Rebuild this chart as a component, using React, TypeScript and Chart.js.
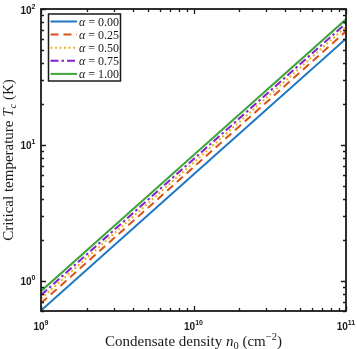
import React, { useEffect, useRef } from "react";
import { Chart, registerables } from "chart.js";

Chart.register(...registerables);

const densities = [1e9, 1e10, 1e11];
const alphaLabels = ["0.00", "0.25", "0.50", "0.75", "1.00"];
const tcAlpha000 = [0.605, 6.05, 60.5];
const tcAlpha025 = [0.685, 6.85, 68.5];
const tcAlpha050 = [0.74, 7.4, 74];
const tcAlpha075 = [0.785, 7.85, 78.5];
const tcAlpha100 = [0.84, 8.4, 84];
const xTickExps = [9, 10, 11];
const yTickExps = [0, 1, 2];

const seriesValues = [tcAlpha000, tcAlpha025, tcAlpha050, tcAlpha075, tcAlpha100];
const seriesColors = ["#1f77c4", "#d95319", "#edb120", "#8020cf", "#3ea43a"];
const seriesDashes: number[][] = [[], [8, 5], [2, 2.5], [8, 3, 2.5, 3], []];

type Seg = { t: string; font: string; dy?: number };

const SERIF = '"Liberation Serif", "Times New Roman", serif';
const SANS = '"Liberation Sans", Arial, sans-serif';

function drawSegs(ctx: CanvasRenderingContext2D, segs: Seg[], x: number, y: number, align: "center" | "left" | "right") {
  let total = 0;
  const widths = segs.map((s) => {
    ctx.font = s.font;
    const w = ctx.measureText(s.t).width;
    total += w;
    return w;
  });
  let cx = align === "center" ? x - total / 2 : align === "right" ? x - total : x;
  ctx.textAlign = "left";
  ctx.textBaseline = "alphabetic";
  segs.forEach((s, i) => {
    ctx.font = s.font;
    ctx.fillText(s.t, cx, y + (s.dy || 0));
    cx += widths[i];
  });
}

const axesPlugin = {
  id: "matlabAxes",
  afterDatasetsDraw(chart: any) {
    const ctx: CanvasRenderingContext2D = chart.ctx;
    const { left, right, top, bottom } = chart.chartArea;
    const xs = chart.scales.x;
    const ys = chart.scales.y;
    ctx.save();
    ctx.strokeStyle = "#1a1a1a";
    ctx.fillStyle = "#1a1a1a";
    ctx.lineWidth = 1.3;
    ctx.setLineDash([]);
    const major = 5;
    const minor = 3;
    const xExpMin = xTickExps[0];
    const xExpMax = xTickExps[xTickExps.length - 1];
    for (let e = xExpMin; e <= xExpMax; e++) {
      for (let m = 1; m <= 9; m++) {
        const v = m * Math.pow(10, e);
        if (v < xs.min * 0.999 || v > xs.max * 1.001) continue;
        const px = Math.round(xs.getPixelForValue(v)) + 0.5;
        const len = m === 1 ? major : minor;
        ctx.beginPath();
        ctx.moveTo(px, bottom);
        ctx.lineTo(px, bottom - len);
        ctx.moveTo(px, top);
        ctx.lineTo(px, top + len);
        ctx.stroke();
      }
    }
    for (let e = -1; e <= yTickExps[yTickExps.length - 1]; e++) {
      for (let m = 1; m <= 9; m++) {
        const v = m * Math.pow(10, e);
        if (v < ys.min * 0.999 || v > ys.max * 1.001) continue;
        const py = Math.round(ys.getPixelForValue(v)) + 0.5;
        const len = m === 1 ? major : minor;
        ctx.beginPath();
        ctx.moveTo(left, py);
        ctx.lineTo(left + len, py);
        ctx.moveTo(right, py);
        ctx.lineTo(right - len, py);
        ctx.stroke();
      }
    }
    ctx.lineWidth = 1.8;
    ctx.strokeRect(left, top, right - left, bottom - top);

    const bFont = `bold 10px ${SANS}`;
    const eFont = `bold 7px ${SANS}`;
    xTickExps.forEach((e) => {
      const px = xs.getPixelForValue(Math.pow(10, e));
      drawSegs(ctx, [{ t: "10", font: bFont }, { t: String(e), font: eFont, dy: -5 }], px, bottom + 18.5, "center");
    });
    yTickExps.forEach((e) => {
      const py = ys.getPixelForValue(Math.pow(10, e));
      drawSegs(ctx, [{ t: "10", font: bFont }, { t: String(e), font: eFont, dy: -5 }], 35.5, py + 4.5, "right");
    });

    const rf = `15px ${SERIF}`;
    const itf = `italic 15px ${SERIF}`;
    const sf = `10.5px ${SERIF}`;
    const sif = `italic 10.5px ${SERIF}`;
    drawSegs(
      ctx,
      [
        { t: "Condensate density ", font: rf },
        { t: "n", font: itf },
        { t: "0", font: sf, dy: 3 },
        { t: " (cm", font: rf },
        { t: "\u22122", font: sf, dy: -6 },
        { t: ")", font: rf },
      ],
      (left + right) / 2,
      345.5,
      "center"
    );
    ctx.save();
    ctx.translate(13, (top + bottom) / 2);
    ctx.rotate(-Math.PI / 2);
    drawSegs(
      ctx,
      [
        { t: "Critical temperature ", font: rf },
        { t: "T", font: itf },
        { t: "c", font: sif, dy: 3 },
        { t: " (K)", font: rf },
      ],
      0,
      0,
      "center"
    );
    ctx.restore();

    const lx = 48.5;
    const ly = 14;
    const lw = 72;
    const lh = 67;
    ctx.fillStyle = "#ffffff";
    ctx.fillRect(lx, ly, lw, lh);
    ctx.lineWidth = 1.5;
    ctx.strokeStyle = "#1a1a1a";
    ctx.strokeRect(lx, ly, lw, lh);
    chart.data.datasets.forEach((ds: any, i: number) => {
      const yy = 21.5 + i * 13.1;
      ctx.strokeStyle = ds.borderColor;
      ctx.lineWidth = 2;
      ctx.setLineDash(ds.borderDash || []);
      ctx.beginPath();
      ctx.moveTo(50.5, yy);
      ctx.lineTo(77, yy);
      ctx.stroke();
      ctx.setLineDash([]);
      ctx.fillStyle = "#1a1a1a";
      drawSegs(
        ctx,
        [
          { t: "\u03b1", font: `italic 12px ${SERIF}` },
          { t: " = " + alphaLabels[i], font: `12px ${SERIF}` },
        ],
        79,
        yy + 4,
        "left"
      );
    });
    ctx.restore();
  },
};

export default function App() {
  const ref = useRef<HTMLCanvasElement | null>(null);
  useEffect(() => {
    if (!ref.current) return;
    const chart = new Chart(ref.current, {
      type: "line",
      data: {
        datasets: seriesValues.map((vals, i) => ({
          label: "\u03b1 = " + alphaLabels[i],
          data: densities.map((d, j) => ({ x: d, y: vals[j] })),
          borderColor: seriesColors[i],
          backgroundColor: seriesColors[i],
          borderDash: seriesDashes[i],
          borderWidth: 2,
          borderCapStyle: "butt" as const,
          pointRadius: 0,
          tension: 0,
          fill: false,
        })),
      },
      options: {
        responsive: false,
        animation: false,
        devicePixelRatio: 1,
        layout: { padding: { left: 41, right: 11, top: 9, bottom: 38 } },
        plugins: { legend: { display: false }, tooltip: { enabled: false } },
        scales: {
          x: { type: "logarithmic", min: 1e9, max: 1e11, display: false },
          y: { type: "logarithmic", min: 0.61, max: 100, display: false },
        },
      },
      plugins: [axesPlugin],
    });
    return () => chart.destroy();
  }, []);
  return (
    <div style={{ position: "fixed", left: 0, top: 0, width: 357, height: 349, background: "#fff" }}>
      <canvas ref={ref} width={357} height={349} style={{ display: "block" }} />
    </div>
  );
}
